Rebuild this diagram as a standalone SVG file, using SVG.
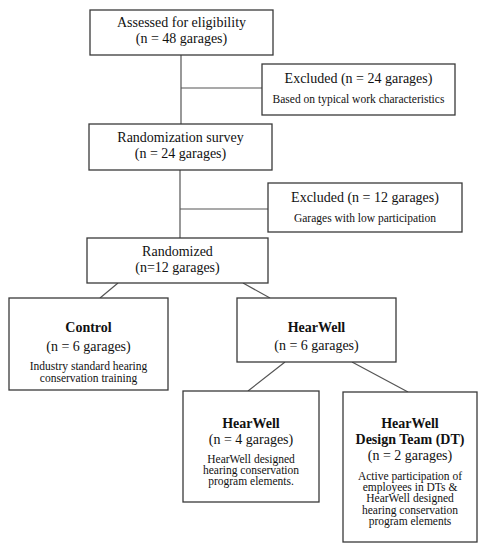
<svg xmlns="http://www.w3.org/2000/svg" width="486" height="550" viewBox="0 0 486 550">
<style>
.box{fill:#fff;stroke:#3a3a3a;stroke-width:1.3}
.ln{fill:none;stroke:#555;stroke-width:1.2}
text{font-family:"Liberation Serif","Times New Roman",serif;fill:#111;text-anchor:middle}
.m{font-size:14px}
.b{font-size:14px;font-weight:bold}
.s{font-size:11.5px}
</style>
<rect width="486" height="550" fill="#fff"/>
<g id="connectors">
<path class="ln" d="M181,55V124M181,88H262"/>
<path class="ln" d="M180,170V238M180,209H268"/>
<path class="ln" d="M118,283L100,298M243,283L270,298"/>
<path class="ln" d="M285,362L248,391M352,362L408,392"/>
</g>
<g id="assessed">
<rect class="box" x="90" y="10" width="183" height="45"/>
<text class="m" x="181.5" y="27">Assessed for eligibility</text>
<text class="m" x="181.5" y="43">(n = 48 garages)</text>
</g>
<g id="excluded1">
<rect class="box" x="262" y="64" width="193" height="51"/>
<text class="m" x="358.5" y="83">Excluded (n = 24 garages)</text>
<text class="s" x="358.5" y="103">Based on typical work characteristics</text>
</g>
<g id="survey">
<rect class="box" x="89" y="124" width="183" height="46"/>
<text class="m" x="180.5" y="142">Randomization survey</text>
<text class="m" x="180.5" y="158">(n = 24 garages)</text>
</g>
<g id="excluded2">
<rect class="box" x="268" y="183" width="194" height="49"/>
<text class="m" x="365" y="202">Excluded (n = 12 garages)</text>
<text class="s" x="365" y="222">Garages with low participation</text>
</g>
<g id="randomized">
<rect class="box" x="87" y="238" width="181" height="45"/>
<text class="m" x="177.5" y="256">Randomized</text>
<text class="m" x="177.5" y="272">(n=12 garages)</text>
</g>
<g id="control">
<rect class="box" x="9" y="298" width="159" height="92"/>
<text class="b" x="88.5" y="332">Control</text>
<text class="m" x="88.5" y="351">(n = 6 garages)</text>
<text class="s" x="88.5" y="370">Industry standard hearing</text>
<text class="s" x="88.5" y="382">conservation training</text>
</g>
<g id="hearwell">
<rect class="box" x="237" y="298" width="159" height="64"/>
<text class="b" x="316.5" y="332">HearWell</text>
<text class="m" x="316.5" y="350">(n = 6 garages)</text>
</g>
<g id="hearwell-sub">
<rect class="box" x="183" y="391" width="136" height="111"/>
<text class="b" x="251" y="428">HearWell</text>
<text class="m" x="251" y="444">(n = 4 garages)</text>
<text class="s" x="251" y="463">HearWell designed</text>
<text class="s" x="251" y="474">hearing conservation</text>
<text class="s" x="251" y="485">program elements.</text>
</g>
<g id="design-team">
<rect class="box" x="343" y="392" width="134" height="150"/>
<text class="b" x="410" y="428">HearWell</text>
<text class="b" x="410" y="444">Design Team (DT)</text>
<text class="m" x="410" y="460">(n = 2 garages)</text>
<text class="s" x="410" y="480">Active participation of</text>
<text class="s" x="410" y="491">employees in DTs &amp;</text>
<text class="s" x="410" y="502">HearWell designed</text>
<text class="s" x="410" y="514">hearing conservation</text>
<text class="s" x="410" y="525">program elements</text>
</g>
</svg>
